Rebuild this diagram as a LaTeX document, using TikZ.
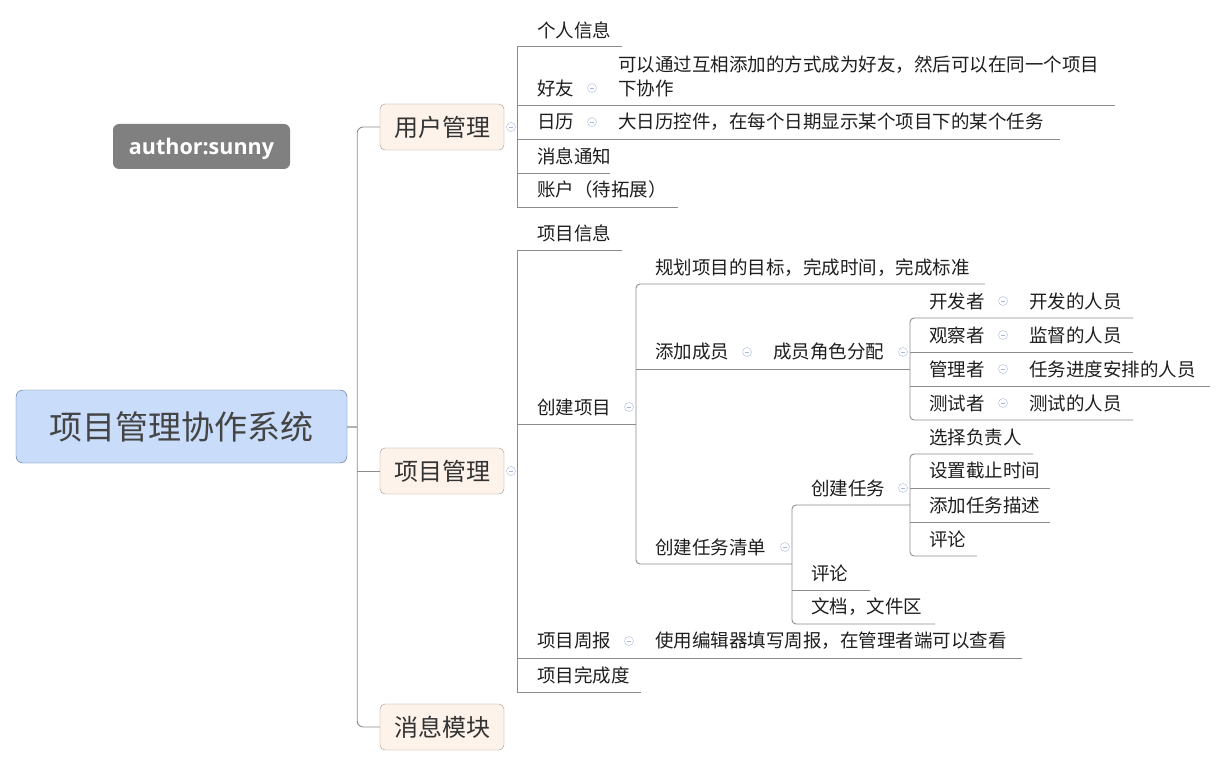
\documentclass[tikz,border=0pt]{standalone}
\usepackage{fontspec}
\setmainfont{Noto Sans CJK SC}
\newfontfamily\authorFont{Open Sans}
\usetikzlibrary{positioning}
\definecolor{centerFill}{HTML}{C9DCFA}
\definecolor{centerLine}{HTML}{50698F}
\definecolor{centerText}{HTML}{444444}
\definecolor{mainFill}{HTML}{FDF3EA}
\definecolor{mainLine}{HTML}{A39388}
\definecolor{mainText}{HTML}{333333}
\definecolor{subText}{HTML}{1E1E1E}
\definecolor{branchGray}{HTML}{8C8C8C}
\definecolor{trunkGray}{HTML}{B4B4B4}
\definecolor{foldBlue}{HTML}{A8B8DC}
\definecolor{authorGray}{HTML}{808080}
\newcommand{\subFont}{\fontsize{18.5}{24}\selectfont}
\newcommand{\mainFont}{\fontsize{24}{28}\selectfont}
\newcommand{\centerFont}{\fontsize{33}{38}\selectfont}
\newcommand{\rowLine}[3]{\draw[branch] (#1,#3) -- (#2,#3);}

\begin{document}
\begin{tikzpicture}[x=1pt, y=-1pt,
    centerTopic/.style={draw=centerLine, fill=centerFill, rounded corners=7pt, minimum width=331pt, minimum height=73pt, font=\centerFont, text=centerText},
    mainTopic/.style={draw=mainLine, fill=mainFill, rounded corners=5pt, minimum width=124pt, minimum height=46pt, font=\mainFont, text=mainText},
    subTopic/.style={anchor=west, inner sep=0pt, font=\subFont, text=subText},
    fold/.style={circle, draw=foldBlue, fill=white, inner sep=0pt, minimum size=9pt,
      path picture={\draw[foldBlue] ([xshift=-2.2pt]path picture bounding box.center) -- ([xshift=2.2pt]path picture bounding box.center);}},
    branch/.style={draw=branchGray, line width=0.9pt}]
\useasboundingbox (0,0) rectangle (1225,767);

\node[centerTopic] (root) at (181.5,426.5) {项目管理协作系统};
\node[fill=authorGray, rounded corners=6pt, minimum width=177pt, minimum height=45pt, text height=19pt, text depth=2pt, text=white, font=\authorFont\bfseries\fontsize{21.5}{24}\selectfont] (author) at (201.5,146.5) {author:sunny};

\node[mainTopic] (user) at (442,127) {用户管理};
\node[mainTopic] (project) at (442,471) {项目管理};
\node[mainTopic] (message) at (442,727) {消息模块};

% trunk
\draw[trunkGray, line width=2pt] (root.east) -- ++(10,0) coordinate (trunk);
\draw[branch, rounded corners=6pt] (user.west) -| (trunk) |- (message.west);
\draw[branch] (trunk |- project.west) -- (project.west);

\node[fold] (userFold) at (511,127) {};
\node[fold] (projectFold) at (511,471) {};

% user management
\node[subTopic] (info) at (537,30) {个人信息};
\node[subTopic] (friend) at (537,88) {好友};
\node[fold] (friendFold) at (592,88) {};
\node[subTopic, align=left] (friendNote) at (618,76) {可以通过互相添加的方式成为好友，然后可以在同一个项目\\下协作};
\node[subTopic] (calendar) at (537,122) {日历};
\node[fold] (calendarFold) at (592,122) {};
\node[subTopic] (calendarNote) at (618,122) {大日历控件，在每个日期显示某个项目下的某个任务};
\node[subTopic] (notice) at (537,156) {消息通知};
\node[subTopic] (account) at (537,189) {账户（待拓展）};

\draw[branch] (517,46) -- (517,207);
\rowLine{517}{622}{46}
\rowLine{517}{1115}{105}
\rowLine{517}{1060}{139}
\rowLine{517}{610}{173}
\rowLine{517}{678}{207}

% project management
\node[subTopic] (projInfo) at (537,233) {项目信息};
\node[subTopic] (create) at (537,407) {创建项目};
\node[fold] (createFold) at (629,407) {};
\node[subTopic] (weekly) at (537,641) {项目周报};
\node[fold] (weeklyFold) at (629,641) {};
\node[subTopic] (weeklyNote) at (655,641) {使用编辑器填写周报，在管理者端可以查看};
\node[subTopic] (progress) at (537,675) {项目完成度};

\draw[branch] (517,250) -- (517,692);
\rowLine{517}{622}{250}
\rowLine{517}{636}{424}
\rowLine{517}{1022}{658}
\rowLine{517}{641}{692}

% create project
\node[subTopic] (plan) at (655,268) {规划项目的目标，完成时间，完成标准};
\node[subTopic] (member) at (655,352) {添加成员};
\node[fold] (memberFold) at (747,352) {};
\node[subTopic] (role) at (773,352) {成员角色分配};
\node[fold] (roleFold) at (903,352) {};
\node[subTopic] (taskList) at (655,547) {创建任务清单};
\node[fold] (taskListFold) at (785,547) {};

\draw[branch, rounded corners=4pt] (985,284) -- (636,284) -- (636,564) -- (792,564);
\rowLine{636}{910}{369}

% roles
\node[subTopic] (dev) at (929,301) {开发者};
\node[fold] (devFold) at (1003,301) {};
\node[subTopic] (devNote) at (1029,301) {开发的人员};
\node[subTopic] (watch) at (929,335) {观察者};
\node[fold] (watchFold) at (1003,335) {};
\node[subTopic] (watchNote) at (1029,335) {监督的人员};
\node[subTopic] (admin) at (929,369) {管理者};
\node[fold] (adminFold) at (1003,369) {};
\node[subTopic] (adminNote) at (1029,369) {任务进度安排的人员};
\node[subTopic] (tester) at (929,403) {测试者};
\node[fold] (testerFold) at (1003,403) {};
\node[subTopic] (testerNote) at (1029,403) {测试的人员};

\draw[branch, rounded corners=4pt] (1133,318) -- (910,318) -- (910,420) -- (1133,420);
\rowLine{910}{1133}{352}
\rowLine{910}{1210}{386}

% task list
\node[subTopic] (task) at (811,488) {创建任务};
\node[fold] (taskFold) at (903,488) {};
\node[subTopic] (comment) at (811,573) {评论};
\node[subTopic] (docs) at (811,607) {文档，文件区};

\draw[branch, rounded corners=4pt] (910,505) -- (792,505) -- (792,624) -- (935,624);
\rowLine{792}{870}{590}

% create task
\node[subTopic] (owner) at (929,437) {选择负责人};
\node[subTopic] (deadline) at (929,471) {设置截止时间};
\node[subTopic] (desc) at (929,505) {添加任务描述};
\node[subTopic] (taskComment) at (929,539) {评论};

\draw[branch, rounded corners=4pt] (1033,454) -- (910,454) -- (910,556) -- (977,556);
\rowLine{910}{1050}{488}
\rowLine{910}{1050}{522}

\end{tikzpicture}
\end{document}
